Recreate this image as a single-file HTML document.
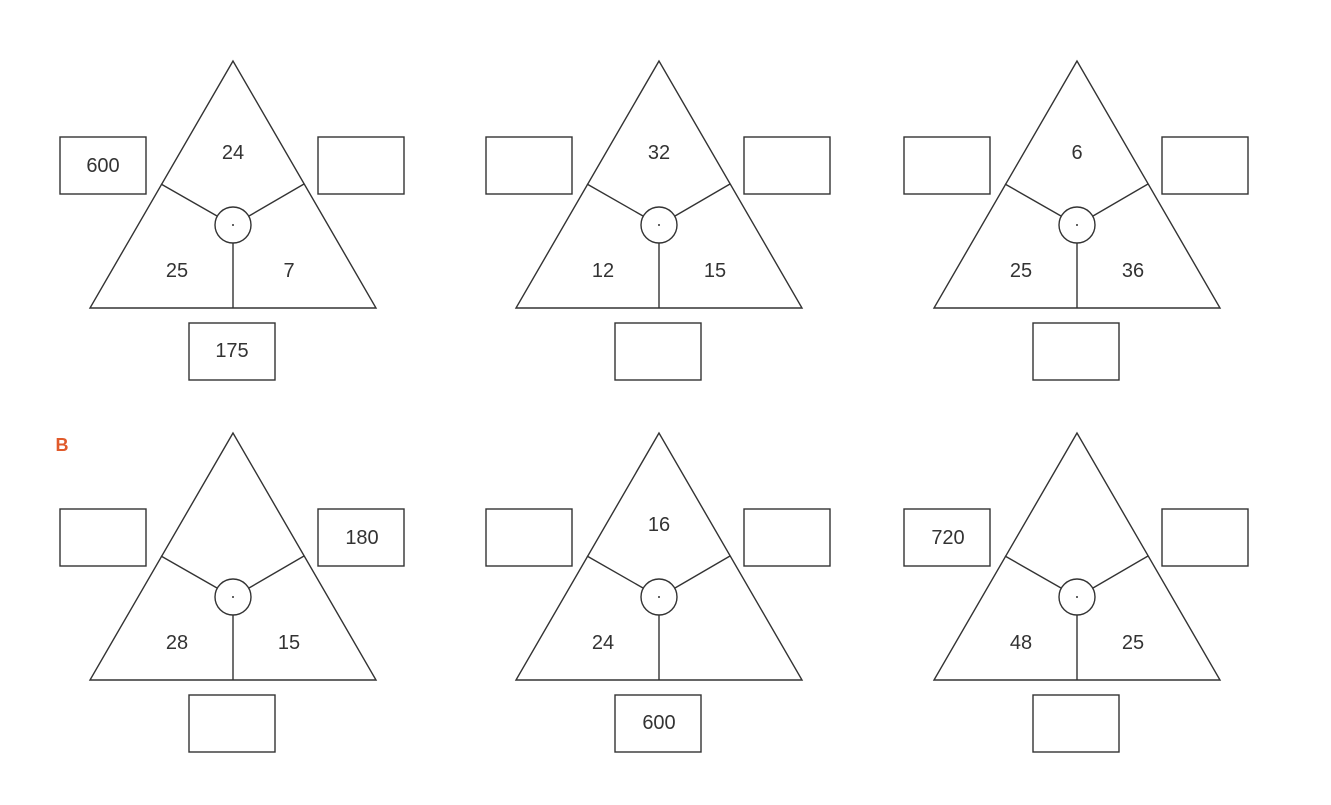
<!DOCTYPE html>
<html><head><meta charset="utf-8"><style>
html,body{margin:0;padding:0;background:#fff;}
svg text{font-family:"Liberation Sans",sans-serif;font-size:20px;fill:#333;text-anchor:middle;dominant-baseline:central;}
</style></head><body>
<svg width="1331" height="800" viewBox="0 0 1331 800" xmlns="http://www.w3.org/2000/svg">
<defs>
<g id="t" fill="none" stroke="#333" stroke-width="1.4">
<polygon points="233,61 90,308 376,308"/>
<circle cx="233" cy="225" r="18"/>
<line x1="217" y1="216" x2="161" y2="184"/>
<line x1="249" y1="216" x2="304" y2="184"/>
<line x1="233" y1="243" x2="233" y2="308"/>
<rect x="60" y="137" width="86" height="57"/>
<rect x="318" y="137" width="86" height="57"/>
<rect x="189" y="323" width="86" height="57"/>
<circle cx="233" cy="225" r="1" fill="#333" stroke="none"/>
</g>
</defs>
<use href="#t"/>
<use href="#t" transform="translate(426,0)"/>
<use href="#t" transform="translate(844,0)"/>
<use href="#t" transform="translate(0,372)"/>
<use href="#t" transform="translate(426,372)"/>
<use href="#t" transform="translate(844,372)"/>

<text x="103" y="166">600</text>
<text x="233" y="153">24</text>
<text x="177" y="271">25</text>
<text x="289" y="271">7</text>
<text x="232" y="351">175</text>

<text x="659" y="153">32</text>
<text x="603" y="271">12</text>
<text x="715" y="271">15</text>

<text x="1077" y="153">6</text>
<text x="1021" y="271">25</text>
<text x="1133" y="271">36</text>

<text x="62" y="445" style="fill:#e05a2b;font-weight:bold;font-size:18px">B</text>

<text x="362" y="538">180</text>
<text x="177" y="643">28</text>
<text x="289" y="643">15</text>

<text x="659" y="525">16</text>
<text x="603" y="643">24</text>
<text x="659" y="723">600</text>

<text x="948" y="538">720</text>
<text x="1021" y="643">48</text>
<text x="1133" y="643">25</text>
</svg>
</body></html>
